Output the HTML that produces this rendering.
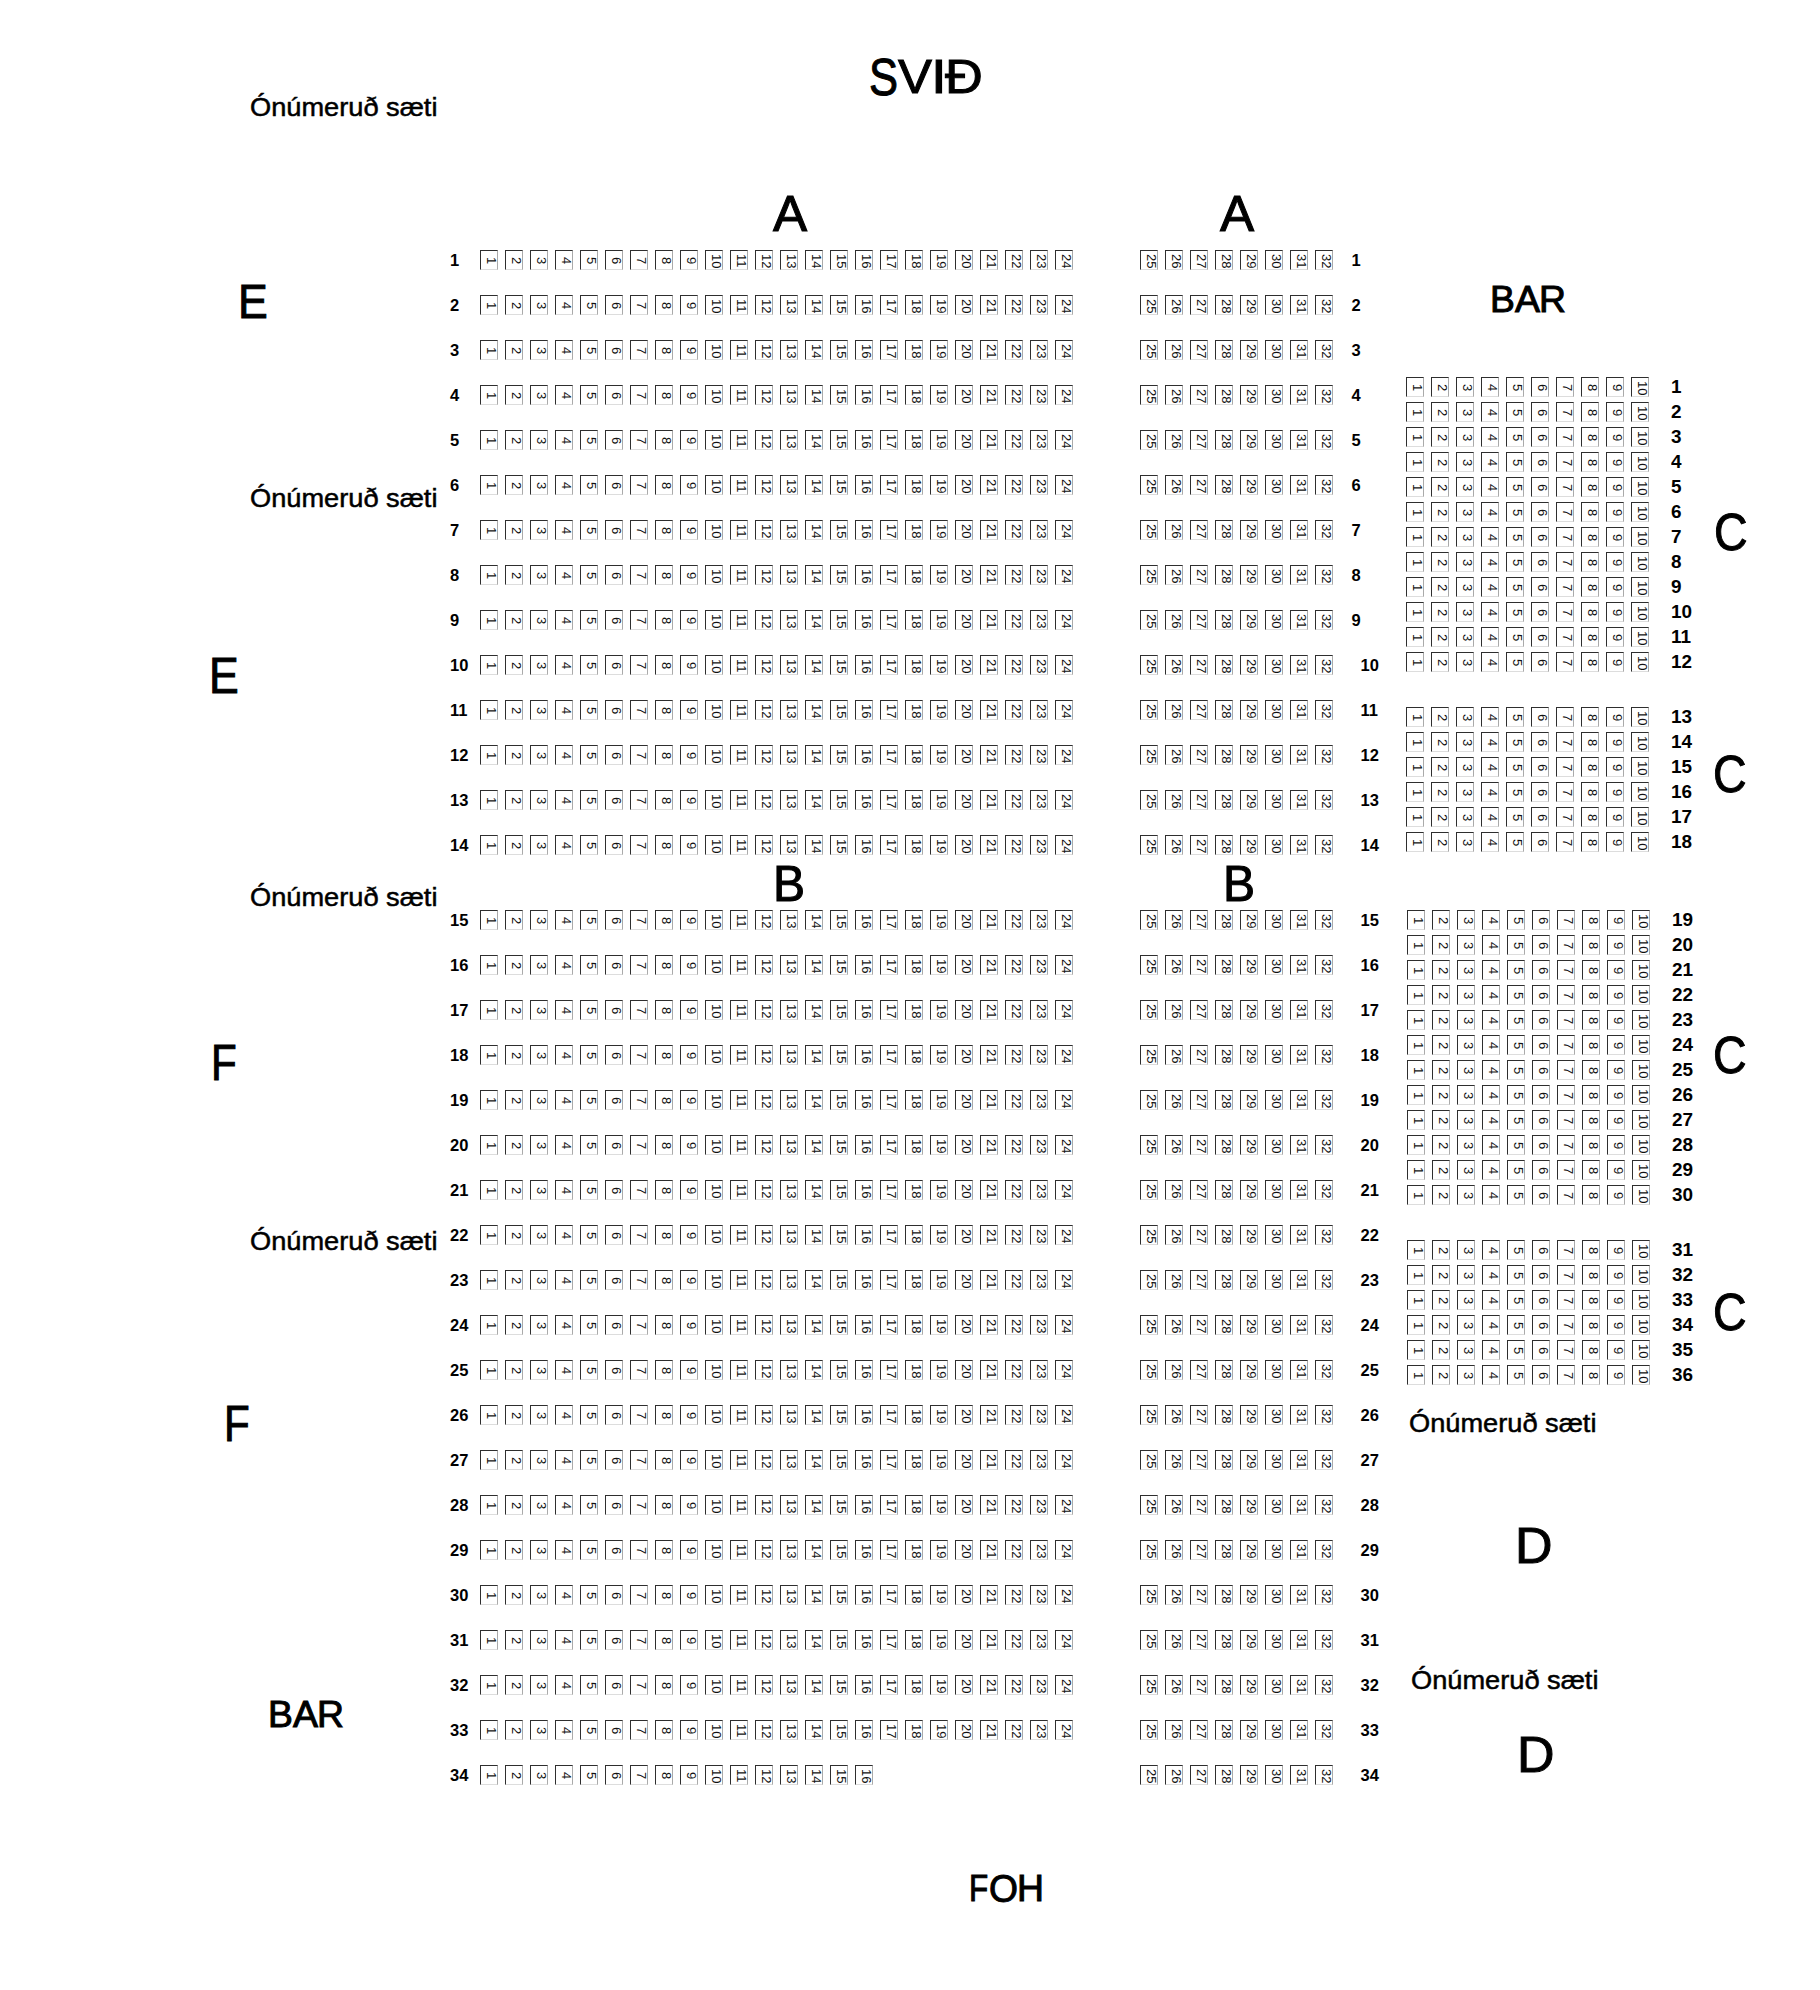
<!DOCTYPE html>
<html><head><meta charset="utf-8"><title>Sætaskipan</title><style>
*{margin:0;padding:0;box-sizing:border-box}
html,body{width:1820px;height:1990px;background:#fff;overflow:hidden}
body{position:relative;font-family:"Liberation Sans",sans-serif;color:#000}
.r{position:absolute;display:flex;gap:7px;height:20px}
.r i{display:block;width:18px;height:20px;border:1px solid;border-color:#2e2e2e #aaa #ddd #2e2e2e;font-style:normal;font-size:13px;line-height:12.5px;writing-mode:vertical-rl;text-align:center;padding-right:0px;padding-top:2px;color:#111}
.n{position:absolute;font-weight:bold;font-size:16.5px;line-height:1;white-space:nowrap;letter-spacing:0px;transform:scaleX(1.0);transform-origin:0 0}
.m{font-size:17.5px;transform:scaleX(1.08)}
.t{position:absolute;white-space:nowrap;line-height:1;transform-origin:0 0}
</style></head>
<body>
<div class="r" style="left:480px;top:250px"><i>1</i><i>2</i><i>3</i><i>4</i><i>5</i><i>6</i><i>7</i><i>8</i><i>9</i><i>10</i><i>11</i><i>12</i><i>13</i><i>14</i><i>15</i><i>16</i><i>17</i><i>18</i><i>19</i><i>20</i><i>21</i><i>22</i><i>23</i><i>24</i></div>
<div class="r" style="left:1140px;top:250px"><i>25</i><i>26</i><i>27</i><i>28</i><i>29</i><i>30</i><i>31</i><i>32</i></div>
<div class="n" style="left:450px;top:251.5px">1</div>
<div class="n" style="left:1351.5px;top:251.5px">1</div>
<div class="r" style="left:480px;top:295px"><i>1</i><i>2</i><i>3</i><i>4</i><i>5</i><i>6</i><i>7</i><i>8</i><i>9</i><i>10</i><i>11</i><i>12</i><i>13</i><i>14</i><i>15</i><i>16</i><i>17</i><i>18</i><i>19</i><i>20</i><i>21</i><i>22</i><i>23</i><i>24</i></div>
<div class="r" style="left:1140px;top:295px"><i>25</i><i>26</i><i>27</i><i>28</i><i>29</i><i>30</i><i>31</i><i>32</i></div>
<div class="n" style="left:450px;top:296.5px">2</div>
<div class="n" style="left:1351.5px;top:296.5px">2</div>
<div class="r" style="left:480px;top:340px"><i>1</i><i>2</i><i>3</i><i>4</i><i>5</i><i>6</i><i>7</i><i>8</i><i>9</i><i>10</i><i>11</i><i>12</i><i>13</i><i>14</i><i>15</i><i>16</i><i>17</i><i>18</i><i>19</i><i>20</i><i>21</i><i>22</i><i>23</i><i>24</i></div>
<div class="r" style="left:1140px;top:340px"><i>25</i><i>26</i><i>27</i><i>28</i><i>29</i><i>30</i><i>31</i><i>32</i></div>
<div class="n" style="left:450px;top:341.5px">3</div>
<div class="n" style="left:1351.5px;top:341.5px">3</div>
<div class="r" style="left:480px;top:385px"><i>1</i><i>2</i><i>3</i><i>4</i><i>5</i><i>6</i><i>7</i><i>8</i><i>9</i><i>10</i><i>11</i><i>12</i><i>13</i><i>14</i><i>15</i><i>16</i><i>17</i><i>18</i><i>19</i><i>20</i><i>21</i><i>22</i><i>23</i><i>24</i></div>
<div class="r" style="left:1140px;top:385px"><i>25</i><i>26</i><i>27</i><i>28</i><i>29</i><i>30</i><i>31</i><i>32</i></div>
<div class="n" style="left:450px;top:386.5px">4</div>
<div class="n" style="left:1351.5px;top:386.5px">4</div>
<div class="r" style="left:480px;top:430px"><i>1</i><i>2</i><i>3</i><i>4</i><i>5</i><i>6</i><i>7</i><i>8</i><i>9</i><i>10</i><i>11</i><i>12</i><i>13</i><i>14</i><i>15</i><i>16</i><i>17</i><i>18</i><i>19</i><i>20</i><i>21</i><i>22</i><i>23</i><i>24</i></div>
<div class="r" style="left:1140px;top:430px"><i>25</i><i>26</i><i>27</i><i>28</i><i>29</i><i>30</i><i>31</i><i>32</i></div>
<div class="n" style="left:450px;top:431.5px">5</div>
<div class="n" style="left:1351.5px;top:431.5px">5</div>
<div class="r" style="left:480px;top:475px"><i>1</i><i>2</i><i>3</i><i>4</i><i>5</i><i>6</i><i>7</i><i>8</i><i>9</i><i>10</i><i>11</i><i>12</i><i>13</i><i>14</i><i>15</i><i>16</i><i>17</i><i>18</i><i>19</i><i>20</i><i>21</i><i>22</i><i>23</i><i>24</i></div>
<div class="r" style="left:1140px;top:475px"><i>25</i><i>26</i><i>27</i><i>28</i><i>29</i><i>30</i><i>31</i><i>32</i></div>
<div class="n" style="left:450px;top:476.5px">6</div>
<div class="n" style="left:1351.5px;top:476.5px">6</div>
<div class="r" style="left:480px;top:520px"><i>1</i><i>2</i><i>3</i><i>4</i><i>5</i><i>6</i><i>7</i><i>8</i><i>9</i><i>10</i><i>11</i><i>12</i><i>13</i><i>14</i><i>15</i><i>16</i><i>17</i><i>18</i><i>19</i><i>20</i><i>21</i><i>22</i><i>23</i><i>24</i></div>
<div class="r" style="left:1140px;top:520px"><i>25</i><i>26</i><i>27</i><i>28</i><i>29</i><i>30</i><i>31</i><i>32</i></div>
<div class="n" style="left:450px;top:521.5px">7</div>
<div class="n" style="left:1351.5px;top:521.5px">7</div>
<div class="r" style="left:480px;top:565px"><i>1</i><i>2</i><i>3</i><i>4</i><i>5</i><i>6</i><i>7</i><i>8</i><i>9</i><i>10</i><i>11</i><i>12</i><i>13</i><i>14</i><i>15</i><i>16</i><i>17</i><i>18</i><i>19</i><i>20</i><i>21</i><i>22</i><i>23</i><i>24</i></div>
<div class="r" style="left:1140px;top:565px"><i>25</i><i>26</i><i>27</i><i>28</i><i>29</i><i>30</i><i>31</i><i>32</i></div>
<div class="n" style="left:450px;top:566.5px">8</div>
<div class="n" style="left:1351.5px;top:566.5px">8</div>
<div class="r" style="left:480px;top:610px"><i>1</i><i>2</i><i>3</i><i>4</i><i>5</i><i>6</i><i>7</i><i>8</i><i>9</i><i>10</i><i>11</i><i>12</i><i>13</i><i>14</i><i>15</i><i>16</i><i>17</i><i>18</i><i>19</i><i>20</i><i>21</i><i>22</i><i>23</i><i>24</i></div>
<div class="r" style="left:1140px;top:610px"><i>25</i><i>26</i><i>27</i><i>28</i><i>29</i><i>30</i><i>31</i><i>32</i></div>
<div class="n" style="left:450px;top:611.5px">9</div>
<div class="n" style="left:1351.5px;top:611.5px">9</div>
<div class="r" style="left:480px;top:655px"><i>1</i><i>2</i><i>3</i><i>4</i><i>5</i><i>6</i><i>7</i><i>8</i><i>9</i><i>10</i><i>11</i><i>12</i><i>13</i><i>14</i><i>15</i><i>16</i><i>17</i><i>18</i><i>19</i><i>20</i><i>21</i><i>22</i><i>23</i><i>24</i></div>
<div class="r" style="left:1140px;top:655px"><i>25</i><i>26</i><i>27</i><i>28</i><i>29</i><i>30</i><i>31</i><i>32</i></div>
<div class="n" style="left:450px;top:656.5px">10</div>
<div class="n" style="left:1360.5px;top:656.5px">10</div>
<div class="r" style="left:480px;top:700px"><i>1</i><i>2</i><i>3</i><i>4</i><i>5</i><i>6</i><i>7</i><i>8</i><i>9</i><i>10</i><i>11</i><i>12</i><i>13</i><i>14</i><i>15</i><i>16</i><i>17</i><i>18</i><i>19</i><i>20</i><i>21</i><i>22</i><i>23</i><i>24</i></div>
<div class="r" style="left:1140px;top:700px"><i>25</i><i>26</i><i>27</i><i>28</i><i>29</i><i>30</i><i>31</i><i>32</i></div>
<div class="n" style="left:450px;top:701.5px">11</div>
<div class="n" style="left:1360.5px;top:701.5px">11</div>
<div class="r" style="left:480px;top:745px"><i>1</i><i>2</i><i>3</i><i>4</i><i>5</i><i>6</i><i>7</i><i>8</i><i>9</i><i>10</i><i>11</i><i>12</i><i>13</i><i>14</i><i>15</i><i>16</i><i>17</i><i>18</i><i>19</i><i>20</i><i>21</i><i>22</i><i>23</i><i>24</i></div>
<div class="r" style="left:1140px;top:745px"><i>25</i><i>26</i><i>27</i><i>28</i><i>29</i><i>30</i><i>31</i><i>32</i></div>
<div class="n" style="left:450px;top:746.5px">12</div>
<div class="n" style="left:1360.5px;top:746.5px">12</div>
<div class="r" style="left:480px;top:790px"><i>1</i><i>2</i><i>3</i><i>4</i><i>5</i><i>6</i><i>7</i><i>8</i><i>9</i><i>10</i><i>11</i><i>12</i><i>13</i><i>14</i><i>15</i><i>16</i><i>17</i><i>18</i><i>19</i><i>20</i><i>21</i><i>22</i><i>23</i><i>24</i></div>
<div class="r" style="left:1140px;top:790px"><i>25</i><i>26</i><i>27</i><i>28</i><i>29</i><i>30</i><i>31</i><i>32</i></div>
<div class="n" style="left:450px;top:791.5px">13</div>
<div class="n" style="left:1360.5px;top:791.5px">13</div>
<div class="r" style="left:480px;top:835px"><i>1</i><i>2</i><i>3</i><i>4</i><i>5</i><i>6</i><i>7</i><i>8</i><i>9</i><i>10</i><i>11</i><i>12</i><i>13</i><i>14</i><i>15</i><i>16</i><i>17</i><i>18</i><i>19</i><i>20</i><i>21</i><i>22</i><i>23</i><i>24</i></div>
<div class="r" style="left:1140px;top:835px"><i>25</i><i>26</i><i>27</i><i>28</i><i>29</i><i>30</i><i>31</i><i>32</i></div>
<div class="n" style="left:450px;top:836.5px">14</div>
<div class="n" style="left:1360.5px;top:836.5px">14</div>
<div class="r" style="left:480px;top:910px"><i>1</i><i>2</i><i>3</i><i>4</i><i>5</i><i>6</i><i>7</i><i>8</i><i>9</i><i>10</i><i>11</i><i>12</i><i>13</i><i>14</i><i>15</i><i>16</i><i>17</i><i>18</i><i>19</i><i>20</i><i>21</i><i>22</i><i>23</i><i>24</i></div>
<div class="r" style="left:1140px;top:910px"><i>25</i><i>26</i><i>27</i><i>28</i><i>29</i><i>30</i><i>31</i><i>32</i></div>
<div class="n" style="left:450px;top:911.5px">15</div>
<div class="n" style="left:1360.5px;top:911.5px">15</div>
<div class="r" style="left:480px;top:955px"><i>1</i><i>2</i><i>3</i><i>4</i><i>5</i><i>6</i><i>7</i><i>8</i><i>9</i><i>10</i><i>11</i><i>12</i><i>13</i><i>14</i><i>15</i><i>16</i><i>17</i><i>18</i><i>19</i><i>20</i><i>21</i><i>22</i><i>23</i><i>24</i></div>
<div class="r" style="left:1140px;top:955px"><i>25</i><i>26</i><i>27</i><i>28</i><i>29</i><i>30</i><i>31</i><i>32</i></div>
<div class="n" style="left:450px;top:956.5px">16</div>
<div class="n" style="left:1360.5px;top:956.5px">16</div>
<div class="r" style="left:480px;top:1000px"><i>1</i><i>2</i><i>3</i><i>4</i><i>5</i><i>6</i><i>7</i><i>8</i><i>9</i><i>10</i><i>11</i><i>12</i><i>13</i><i>14</i><i>15</i><i>16</i><i>17</i><i>18</i><i>19</i><i>20</i><i>21</i><i>22</i><i>23</i><i>24</i></div>
<div class="r" style="left:1140px;top:1000px"><i>25</i><i>26</i><i>27</i><i>28</i><i>29</i><i>30</i><i>31</i><i>32</i></div>
<div class="n" style="left:450px;top:1001.5px">17</div>
<div class="n" style="left:1360.5px;top:1001.5px">17</div>
<div class="r" style="left:480px;top:1045px"><i>1</i><i>2</i><i>3</i><i>4</i><i>5</i><i>6</i><i>7</i><i>8</i><i>9</i><i>10</i><i>11</i><i>12</i><i>13</i><i>14</i><i>15</i><i>16</i><i>17</i><i>18</i><i>19</i><i>20</i><i>21</i><i>22</i><i>23</i><i>24</i></div>
<div class="r" style="left:1140px;top:1045px"><i>25</i><i>26</i><i>27</i><i>28</i><i>29</i><i>30</i><i>31</i><i>32</i></div>
<div class="n" style="left:450px;top:1046.5px">18</div>
<div class="n" style="left:1360.5px;top:1046.5px">18</div>
<div class="r" style="left:480px;top:1090px"><i>1</i><i>2</i><i>3</i><i>4</i><i>5</i><i>6</i><i>7</i><i>8</i><i>9</i><i>10</i><i>11</i><i>12</i><i>13</i><i>14</i><i>15</i><i>16</i><i>17</i><i>18</i><i>19</i><i>20</i><i>21</i><i>22</i><i>23</i><i>24</i></div>
<div class="r" style="left:1140px;top:1090px"><i>25</i><i>26</i><i>27</i><i>28</i><i>29</i><i>30</i><i>31</i><i>32</i></div>
<div class="n" style="left:450px;top:1091.5px">19</div>
<div class="n" style="left:1360.5px;top:1091.5px">19</div>
<div class="r" style="left:480px;top:1135px"><i>1</i><i>2</i><i>3</i><i>4</i><i>5</i><i>6</i><i>7</i><i>8</i><i>9</i><i>10</i><i>11</i><i>12</i><i>13</i><i>14</i><i>15</i><i>16</i><i>17</i><i>18</i><i>19</i><i>20</i><i>21</i><i>22</i><i>23</i><i>24</i></div>
<div class="r" style="left:1140px;top:1135px"><i>25</i><i>26</i><i>27</i><i>28</i><i>29</i><i>30</i><i>31</i><i>32</i></div>
<div class="n" style="left:450px;top:1136.5px">20</div>
<div class="n" style="left:1360.5px;top:1136.5px">20</div>
<div class="r" style="left:480px;top:1180px"><i>1</i><i>2</i><i>3</i><i>4</i><i>5</i><i>6</i><i>7</i><i>8</i><i>9</i><i>10</i><i>11</i><i>12</i><i>13</i><i>14</i><i>15</i><i>16</i><i>17</i><i>18</i><i>19</i><i>20</i><i>21</i><i>22</i><i>23</i><i>24</i></div>
<div class="r" style="left:1140px;top:1180px"><i>25</i><i>26</i><i>27</i><i>28</i><i>29</i><i>30</i><i>31</i><i>32</i></div>
<div class="n" style="left:450px;top:1181.5px">21</div>
<div class="n" style="left:1360.5px;top:1181.5px">21</div>
<div class="r" style="left:480px;top:1225px"><i>1</i><i>2</i><i>3</i><i>4</i><i>5</i><i>6</i><i>7</i><i>8</i><i>9</i><i>10</i><i>11</i><i>12</i><i>13</i><i>14</i><i>15</i><i>16</i><i>17</i><i>18</i><i>19</i><i>20</i><i>21</i><i>22</i><i>23</i><i>24</i></div>
<div class="r" style="left:1140px;top:1225px"><i>25</i><i>26</i><i>27</i><i>28</i><i>29</i><i>30</i><i>31</i><i>32</i></div>
<div class="n" style="left:450px;top:1226.5px">22</div>
<div class="n" style="left:1360.5px;top:1226.5px">22</div>
<div class="r" style="left:480px;top:1270px"><i>1</i><i>2</i><i>3</i><i>4</i><i>5</i><i>6</i><i>7</i><i>8</i><i>9</i><i>10</i><i>11</i><i>12</i><i>13</i><i>14</i><i>15</i><i>16</i><i>17</i><i>18</i><i>19</i><i>20</i><i>21</i><i>22</i><i>23</i><i>24</i></div>
<div class="r" style="left:1140px;top:1270px"><i>25</i><i>26</i><i>27</i><i>28</i><i>29</i><i>30</i><i>31</i><i>32</i></div>
<div class="n" style="left:450px;top:1271.5px">23</div>
<div class="n" style="left:1360.5px;top:1271.5px">23</div>
<div class="r" style="left:480px;top:1315px"><i>1</i><i>2</i><i>3</i><i>4</i><i>5</i><i>6</i><i>7</i><i>8</i><i>9</i><i>10</i><i>11</i><i>12</i><i>13</i><i>14</i><i>15</i><i>16</i><i>17</i><i>18</i><i>19</i><i>20</i><i>21</i><i>22</i><i>23</i><i>24</i></div>
<div class="r" style="left:1140px;top:1315px"><i>25</i><i>26</i><i>27</i><i>28</i><i>29</i><i>30</i><i>31</i><i>32</i></div>
<div class="n" style="left:450px;top:1316.5px">24</div>
<div class="n" style="left:1360.5px;top:1316.5px">24</div>
<div class="r" style="left:480px;top:1360px"><i>1</i><i>2</i><i>3</i><i>4</i><i>5</i><i>6</i><i>7</i><i>8</i><i>9</i><i>10</i><i>11</i><i>12</i><i>13</i><i>14</i><i>15</i><i>16</i><i>17</i><i>18</i><i>19</i><i>20</i><i>21</i><i>22</i><i>23</i><i>24</i></div>
<div class="r" style="left:1140px;top:1360px"><i>25</i><i>26</i><i>27</i><i>28</i><i>29</i><i>30</i><i>31</i><i>32</i></div>
<div class="n" style="left:450px;top:1361.5px">25</div>
<div class="n" style="left:1360.5px;top:1361.5px">25</div>
<div class="r" style="left:480px;top:1405px"><i>1</i><i>2</i><i>3</i><i>4</i><i>5</i><i>6</i><i>7</i><i>8</i><i>9</i><i>10</i><i>11</i><i>12</i><i>13</i><i>14</i><i>15</i><i>16</i><i>17</i><i>18</i><i>19</i><i>20</i><i>21</i><i>22</i><i>23</i><i>24</i></div>
<div class="r" style="left:1140px;top:1405px"><i>25</i><i>26</i><i>27</i><i>28</i><i>29</i><i>30</i><i>31</i><i>32</i></div>
<div class="n" style="left:450px;top:1406.5px">26</div>
<div class="n" style="left:1360.5px;top:1406.5px">26</div>
<div class="r" style="left:480px;top:1450px"><i>1</i><i>2</i><i>3</i><i>4</i><i>5</i><i>6</i><i>7</i><i>8</i><i>9</i><i>10</i><i>11</i><i>12</i><i>13</i><i>14</i><i>15</i><i>16</i><i>17</i><i>18</i><i>19</i><i>20</i><i>21</i><i>22</i><i>23</i><i>24</i></div>
<div class="r" style="left:1140px;top:1450px"><i>25</i><i>26</i><i>27</i><i>28</i><i>29</i><i>30</i><i>31</i><i>32</i></div>
<div class="n" style="left:450px;top:1451.5px">27</div>
<div class="n" style="left:1360.5px;top:1451.5px">27</div>
<div class="r" style="left:480px;top:1495px"><i>1</i><i>2</i><i>3</i><i>4</i><i>5</i><i>6</i><i>7</i><i>8</i><i>9</i><i>10</i><i>11</i><i>12</i><i>13</i><i>14</i><i>15</i><i>16</i><i>17</i><i>18</i><i>19</i><i>20</i><i>21</i><i>22</i><i>23</i><i>24</i></div>
<div class="r" style="left:1140px;top:1495px"><i>25</i><i>26</i><i>27</i><i>28</i><i>29</i><i>30</i><i>31</i><i>32</i></div>
<div class="n" style="left:450px;top:1496.5px">28</div>
<div class="n" style="left:1360.5px;top:1496.5px">28</div>
<div class="r" style="left:480px;top:1540px"><i>1</i><i>2</i><i>3</i><i>4</i><i>5</i><i>6</i><i>7</i><i>8</i><i>9</i><i>10</i><i>11</i><i>12</i><i>13</i><i>14</i><i>15</i><i>16</i><i>17</i><i>18</i><i>19</i><i>20</i><i>21</i><i>22</i><i>23</i><i>24</i></div>
<div class="r" style="left:1140px;top:1540px"><i>25</i><i>26</i><i>27</i><i>28</i><i>29</i><i>30</i><i>31</i><i>32</i></div>
<div class="n" style="left:450px;top:1541.5px">29</div>
<div class="n" style="left:1360.5px;top:1541.5px">29</div>
<div class="r" style="left:480px;top:1585px"><i>1</i><i>2</i><i>3</i><i>4</i><i>5</i><i>6</i><i>7</i><i>8</i><i>9</i><i>10</i><i>11</i><i>12</i><i>13</i><i>14</i><i>15</i><i>16</i><i>17</i><i>18</i><i>19</i><i>20</i><i>21</i><i>22</i><i>23</i><i>24</i></div>
<div class="r" style="left:1140px;top:1585px"><i>25</i><i>26</i><i>27</i><i>28</i><i>29</i><i>30</i><i>31</i><i>32</i></div>
<div class="n" style="left:450px;top:1586.5px">30</div>
<div class="n" style="left:1360.5px;top:1586.5px">30</div>
<div class="r" style="left:480px;top:1630px"><i>1</i><i>2</i><i>3</i><i>4</i><i>5</i><i>6</i><i>7</i><i>8</i><i>9</i><i>10</i><i>11</i><i>12</i><i>13</i><i>14</i><i>15</i><i>16</i><i>17</i><i>18</i><i>19</i><i>20</i><i>21</i><i>22</i><i>23</i><i>24</i></div>
<div class="r" style="left:1140px;top:1630px"><i>25</i><i>26</i><i>27</i><i>28</i><i>29</i><i>30</i><i>31</i><i>32</i></div>
<div class="n" style="left:450px;top:1631.5px">31</div>
<div class="n" style="left:1360.5px;top:1631.5px">31</div>
<div class="r" style="left:480px;top:1675px"><i>1</i><i>2</i><i>3</i><i>4</i><i>5</i><i>6</i><i>7</i><i>8</i><i>9</i><i>10</i><i>11</i><i>12</i><i>13</i><i>14</i><i>15</i><i>16</i><i>17</i><i>18</i><i>19</i><i>20</i><i>21</i><i>22</i><i>23</i><i>24</i></div>
<div class="r" style="left:1140px;top:1675px"><i>25</i><i>26</i><i>27</i><i>28</i><i>29</i><i>30</i><i>31</i><i>32</i></div>
<div class="n" style="left:450px;top:1676.5px">32</div>
<div class="n" style="left:1360.5px;top:1676.5px">32</div>
<div class="r" style="left:480px;top:1720px"><i>1</i><i>2</i><i>3</i><i>4</i><i>5</i><i>6</i><i>7</i><i>8</i><i>9</i><i>10</i><i>11</i><i>12</i><i>13</i><i>14</i><i>15</i><i>16</i><i>17</i><i>18</i><i>19</i><i>20</i><i>21</i><i>22</i><i>23</i><i>24</i></div>
<div class="r" style="left:1140px;top:1720px"><i>25</i><i>26</i><i>27</i><i>28</i><i>29</i><i>30</i><i>31</i><i>32</i></div>
<div class="n" style="left:450px;top:1721.5px">33</div>
<div class="n" style="left:1360.5px;top:1721.5px">33</div>
<div class="r" style="left:480px;top:1765px"><i>1</i><i>2</i><i>3</i><i>4</i><i>5</i><i>6</i><i>7</i><i>8</i><i>9</i><i>10</i><i>11</i><i>12</i><i>13</i><i>14</i><i>15</i><i>16</i></div>
<div class="r" style="left:1140px;top:1765px"><i>25</i><i>26</i><i>27</i><i>28</i><i>29</i><i>30</i><i>31</i><i>32</i></div>
<div class="n" style="left:450px;top:1766.5px">34</div>
<div class="n" style="left:1360.5px;top:1766.5px">34</div>
<div class="r" style="left:1406px;top:377px"><i>1</i><i>2</i><i>3</i><i>4</i><i>5</i><i>6</i><i>7</i><i>8</i><i>9</i><i>10</i></div>
<div class="n m" style="left:1671px;top:378.5px">1</div>
<div class="r" style="left:1406px;top:402px"><i>1</i><i>2</i><i>3</i><i>4</i><i>5</i><i>6</i><i>7</i><i>8</i><i>9</i><i>10</i></div>
<div class="n m" style="left:1671px;top:403.5px">2</div>
<div class="r" style="left:1406px;top:427px"><i>1</i><i>2</i><i>3</i><i>4</i><i>5</i><i>6</i><i>7</i><i>8</i><i>9</i><i>10</i></div>
<div class="n m" style="left:1671px;top:428.5px">3</div>
<div class="r" style="left:1406px;top:452px"><i>1</i><i>2</i><i>3</i><i>4</i><i>5</i><i>6</i><i>7</i><i>8</i><i>9</i><i>10</i></div>
<div class="n m" style="left:1671px;top:453.5px">4</div>
<div class="r" style="left:1406px;top:477px"><i>1</i><i>2</i><i>3</i><i>4</i><i>5</i><i>6</i><i>7</i><i>8</i><i>9</i><i>10</i></div>
<div class="n m" style="left:1671px;top:478.5px">5</div>
<div class="r" style="left:1406px;top:502px"><i>1</i><i>2</i><i>3</i><i>4</i><i>5</i><i>6</i><i>7</i><i>8</i><i>9</i><i>10</i></div>
<div class="n m" style="left:1671px;top:503.5px">6</div>
<div class="r" style="left:1406px;top:527px"><i>1</i><i>2</i><i>3</i><i>4</i><i>5</i><i>6</i><i>7</i><i>8</i><i>9</i><i>10</i></div>
<div class="n m" style="left:1671px;top:528.5px">7</div>
<div class="r" style="left:1406px;top:552px"><i>1</i><i>2</i><i>3</i><i>4</i><i>5</i><i>6</i><i>7</i><i>8</i><i>9</i><i>10</i></div>
<div class="n m" style="left:1671px;top:553.5px">8</div>
<div class="r" style="left:1406px;top:577px"><i>1</i><i>2</i><i>3</i><i>4</i><i>5</i><i>6</i><i>7</i><i>8</i><i>9</i><i>10</i></div>
<div class="n m" style="left:1671px;top:578.5px">9</div>
<div class="r" style="left:1406px;top:602px"><i>1</i><i>2</i><i>3</i><i>4</i><i>5</i><i>6</i><i>7</i><i>8</i><i>9</i><i>10</i></div>
<div class="n m" style="left:1671px;top:603.5px">10</div>
<div class="r" style="left:1406px;top:627px"><i>1</i><i>2</i><i>3</i><i>4</i><i>5</i><i>6</i><i>7</i><i>8</i><i>9</i><i>10</i></div>
<div class="n m" style="left:1671px;top:628.5px">11</div>
<div class="r" style="left:1406px;top:652px"><i>1</i><i>2</i><i>3</i><i>4</i><i>5</i><i>6</i><i>7</i><i>8</i><i>9</i><i>10</i></div>
<div class="n m" style="left:1671px;top:653.5px">12</div>
<div class="r" style="left:1406px;top:707px"><i>1</i><i>2</i><i>3</i><i>4</i><i>5</i><i>6</i><i>7</i><i>8</i><i>9</i><i>10</i></div>
<div class="n m" style="left:1671px;top:708.5px">13</div>
<div class="r" style="left:1406px;top:732px"><i>1</i><i>2</i><i>3</i><i>4</i><i>5</i><i>6</i><i>7</i><i>8</i><i>9</i><i>10</i></div>
<div class="n m" style="left:1671px;top:733.5px">14</div>
<div class="r" style="left:1406px;top:757px"><i>1</i><i>2</i><i>3</i><i>4</i><i>5</i><i>6</i><i>7</i><i>8</i><i>9</i><i>10</i></div>
<div class="n m" style="left:1671px;top:758.5px">15</div>
<div class="r" style="left:1406px;top:782px"><i>1</i><i>2</i><i>3</i><i>4</i><i>5</i><i>6</i><i>7</i><i>8</i><i>9</i><i>10</i></div>
<div class="n m" style="left:1671px;top:783.5px">16</div>
<div class="r" style="left:1406px;top:807px"><i>1</i><i>2</i><i>3</i><i>4</i><i>5</i><i>6</i><i>7</i><i>8</i><i>9</i><i>10</i></div>
<div class="n m" style="left:1671px;top:808.5px">17</div>
<div class="r" style="left:1406px;top:832px"><i>1</i><i>2</i><i>3</i><i>4</i><i>5</i><i>6</i><i>7</i><i>8</i><i>9</i><i>10</i></div>
<div class="n m" style="left:1671px;top:833.5px">18</div>
<div class="r" style="left:1407px;top:910px"><i>1</i><i>2</i><i>3</i><i>4</i><i>5</i><i>6</i><i>7</i><i>8</i><i>9</i><i>10</i></div>
<div class="n m" style="left:1672px;top:911.5px">19</div>
<div class="r" style="left:1407px;top:935px"><i>1</i><i>2</i><i>3</i><i>4</i><i>5</i><i>6</i><i>7</i><i>8</i><i>9</i><i>10</i></div>
<div class="n m" style="left:1672px;top:936.5px">20</div>
<div class="r" style="left:1407px;top:960px"><i>1</i><i>2</i><i>3</i><i>4</i><i>5</i><i>6</i><i>7</i><i>8</i><i>9</i><i>10</i></div>
<div class="n m" style="left:1672px;top:961.5px">21</div>
<div class="r" style="left:1407px;top:985px"><i>1</i><i>2</i><i>3</i><i>4</i><i>5</i><i>6</i><i>7</i><i>8</i><i>9</i><i>10</i></div>
<div class="n m" style="left:1672px;top:986.5px">22</div>
<div class="r" style="left:1407px;top:1010px"><i>1</i><i>2</i><i>3</i><i>4</i><i>5</i><i>6</i><i>7</i><i>8</i><i>9</i><i>10</i></div>
<div class="n m" style="left:1672px;top:1011.5px">23</div>
<div class="r" style="left:1407px;top:1035px"><i>1</i><i>2</i><i>3</i><i>4</i><i>5</i><i>6</i><i>7</i><i>8</i><i>9</i><i>10</i></div>
<div class="n m" style="left:1672px;top:1036.5px">24</div>
<div class="r" style="left:1407px;top:1060px"><i>1</i><i>2</i><i>3</i><i>4</i><i>5</i><i>6</i><i>7</i><i>8</i><i>9</i><i>10</i></div>
<div class="n m" style="left:1672px;top:1061.5px">25</div>
<div class="r" style="left:1407px;top:1085px"><i>1</i><i>2</i><i>3</i><i>4</i><i>5</i><i>6</i><i>7</i><i>8</i><i>9</i><i>10</i></div>
<div class="n m" style="left:1672px;top:1086.5px">26</div>
<div class="r" style="left:1407px;top:1110px"><i>1</i><i>2</i><i>3</i><i>4</i><i>5</i><i>6</i><i>7</i><i>8</i><i>9</i><i>10</i></div>
<div class="n m" style="left:1672px;top:1111.5px">27</div>
<div class="r" style="left:1407px;top:1135px"><i>1</i><i>2</i><i>3</i><i>4</i><i>5</i><i>6</i><i>7</i><i>8</i><i>9</i><i>10</i></div>
<div class="n m" style="left:1672px;top:1136.5px">28</div>
<div class="r" style="left:1407px;top:1160px"><i>1</i><i>2</i><i>3</i><i>4</i><i>5</i><i>6</i><i>7</i><i>8</i><i>9</i><i>10</i></div>
<div class="n m" style="left:1672px;top:1161.5px">29</div>
<div class="r" style="left:1407px;top:1185px"><i>1</i><i>2</i><i>3</i><i>4</i><i>5</i><i>6</i><i>7</i><i>8</i><i>9</i><i>10</i></div>
<div class="n m" style="left:1672px;top:1186.5px">30</div>
<div class="r" style="left:1407px;top:1240px"><i>1</i><i>2</i><i>3</i><i>4</i><i>5</i><i>6</i><i>7</i><i>8</i><i>9</i><i>10</i></div>
<div class="n m" style="left:1672px;top:1241.5px">31</div>
<div class="r" style="left:1407px;top:1265px"><i>1</i><i>2</i><i>3</i><i>4</i><i>5</i><i>6</i><i>7</i><i>8</i><i>9</i><i>10</i></div>
<div class="n m" style="left:1672px;top:1266.5px">32</div>
<div class="r" style="left:1407px;top:1290px"><i>1</i><i>2</i><i>3</i><i>4</i><i>5</i><i>6</i><i>7</i><i>8</i><i>9</i><i>10</i></div>
<div class="n m" style="left:1672px;top:1291.5px">33</div>
<div class="r" style="left:1407px;top:1315px"><i>1</i><i>2</i><i>3</i><i>4</i><i>5</i><i>6</i><i>7</i><i>8</i><i>9</i><i>10</i></div>
<div class="n m" style="left:1672px;top:1316.5px">34</div>
<div class="r" style="left:1407px;top:1340px"><i>1</i><i>2</i><i>3</i><i>4</i><i>5</i><i>6</i><i>7</i><i>8</i><i>9</i><i>10</i></div>
<div class="n m" style="left:1672px;top:1341.5px">35</div>
<div class="r" style="left:1407px;top:1365px"><i>1</i><i>2</i><i>3</i><i>4</i><i>5</i><i>6</i><i>7</i><i>8</i><i>9</i><i>10</i></div>
<div class="n m" style="left:1672px;top:1366.5px">36</div>
<div class="t" style="left:869.29px;top:51.48px;font-size:52.20px;transform:scaleX(0.835);-webkit-text-stroke:1px #000">S</div>
<div class="t" style="left:897.91px;top:51.89px;font-size:48.10px;transform:scaleX(1.060);-webkit-text-stroke:1px #000">V</div>
<div class="t" style="left:931.40px;top:51.89px;font-size:48.10px;transform:scaleX(1.178);-webkit-text-stroke:1px #000">I</div>
<div class="t" style="left:944.97px;top:51.89px;font-size:48.10px;transform:scaleX(1.088);-webkit-text-stroke:1px #000">Ð</div>
<div class="t" style="left:249.86px;top:94.68px;font-size:25.70px;transform:scaleX(1.059);-webkit-text-stroke:0.5px #000">Ónúmeruð sæti</div>
<div class="t" style="left:772.94px;top:190.22px;font-size:49.80px;transform:scaleX(1.029);-webkit-text-stroke:1px #000">A</div>
<div class="t" style="left:1219.94px;top:190.22px;font-size:49.80px;transform:scaleX(1.029);-webkit-text-stroke:1px #000">A</div>
<div class="t" style="left:238.26px;top:276.95px;font-size:48.20px;transform:scaleX(0.926);-webkit-text-stroke:1px #000">E</div>
<div class="t" style="left:1490.00px;top:280.97px;font-size:37.20px;transform:scaleX(1.003);-webkit-text-stroke:1px #000">B</div>
<div class="t" style="left:1514.91px;top:280.97px;font-size:37.20px;transform:scaleX(1.008);-webkit-text-stroke:1px #000">A</div>
<div class="t" style="left:1539.00px;top:280.97px;font-size:37.20px;transform:scaleX(1.004);-webkit-text-stroke:1px #000">R</div>
<div class="t" style="left:249.86px;top:485.68px;font-size:25.70px;transform:scaleX(1.059);-webkit-text-stroke:0.5px #000">Ónúmeruð sæti</div>
<div class="t" style="left:1714.06px;top:506.48px;font-size:52.20px;transform:scaleX(0.892);-webkit-text-stroke:1px #000">C</div>
<div class="t" style="left:209.27px;top:652.22px;font-size:49.80px;transform:scaleX(0.895);-webkit-text-stroke:1px #000">E</div>
<div class="t" style="left:1713.06px;top:748.48px;font-size:52.20px;transform:scaleX(0.892);-webkit-text-stroke:1px #000">C</div>
<div class="t" style="left:772.96px;top:860.22px;font-size:49.80px;transform:scaleX(0.965);-webkit-text-stroke:1px #000">B</div>
<div class="t" style="left:1222.96px;top:860.22px;font-size:49.80px;transform:scaleX(0.965);-webkit-text-stroke:1px #000">B</div>
<div class="t" style="left:249.86px;top:884.68px;font-size:25.70px;transform:scaleX(1.059);-webkit-text-stroke:0.5px #000">Ónúmeruð sæti</div>
<div class="t" style="left:211.42px;top:1039.22px;font-size:49.80px;transform:scaleX(0.845);-webkit-text-stroke:1px #000">F</div>
<div class="t" style="left:1713.06px;top:1029.48px;font-size:52.20px;transform:scaleX(0.892);-webkit-text-stroke:1px #000">C</div>
<div class="t" style="left:249.86px;top:1228.68px;font-size:25.70px;transform:scaleX(1.059);-webkit-text-stroke:0.5px #000">Ónúmeruð sæti</div>
<div class="t" style="left:1713.06px;top:1286.48px;font-size:52.20px;transform:scaleX(0.892);-webkit-text-stroke:1px #000">C</div>
<div class="t" style="left:224.42px;top:1400.22px;font-size:49.80px;transform:scaleX(0.845);-webkit-text-stroke:1px #000">F</div>
<div class="t" style="left:1408.86px;top:1410.68px;font-size:25.70px;transform:scaleX(1.059);-webkit-text-stroke:0.5px #000">Ónúmeruð sæti</div>
<div class="t" style="left:1514.58px;top:1522.22px;font-size:49.80px;transform:scaleX(1.043);-webkit-text-stroke:1px #000">D</div>
<div class="t" style="left:1410.86px;top:1667.68px;font-size:25.70px;transform:scaleX(1.059);-webkit-text-stroke:0.5px #000">Ónúmeruð sæti</div>
<div class="t" style="left:268.00px;top:1695.97px;font-size:37.20px;transform:scaleX(1.003);-webkit-text-stroke:1px #000">B</div>
<div class="t" style="left:292.91px;top:1695.97px;font-size:37.20px;transform:scaleX(1.008);-webkit-text-stroke:1px #000">A</div>
<div class="t" style="left:317.00px;top:1695.97px;font-size:37.20px;transform:scaleX(1.004);-webkit-text-stroke:1px #000">R</div>
<div class="t" style="left:1516.58px;top:1731.22px;font-size:49.80px;transform:scaleX(1.043);-webkit-text-stroke:1px #000">D</div>
<div class="t" style="left:969.32px;top:1869.97px;font-size:37.20px;transform:scaleX(0.843);-webkit-text-stroke:1px #000">F</div>
<div class="t" style="left:989.00px;top:1869.81px;font-size:38.60px;transform:scaleX(0.965);-webkit-text-stroke:1px #000">O</div>
<div class="t" style="left:1016.99px;top:1869.97px;font-size:37.20px;transform:scaleX(1.004);-webkit-text-stroke:1px #000">H</div>
</body></html>
